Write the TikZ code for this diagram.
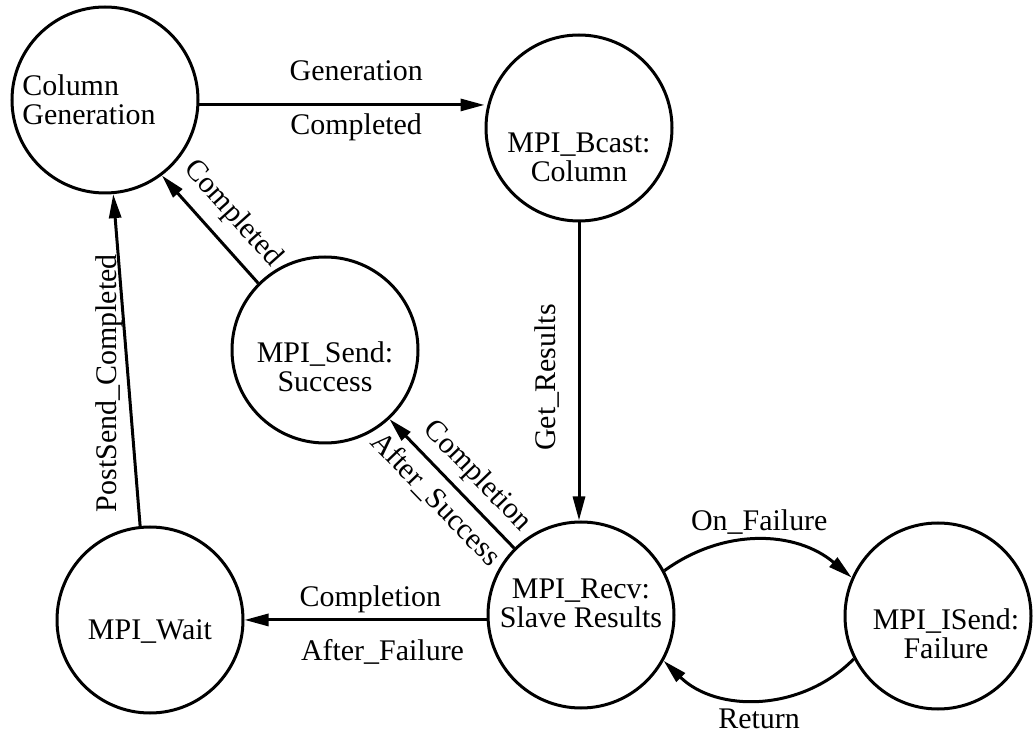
\documentclass[tikz,border=0pt]{standalone}
\usepackage{fontspec}
\setmainfont{Liberation Serif}
\usetikzlibrary{arrows.meta}

\begin{document}
\begin{tikzpicture}[
 state/.style={circle,draw,line width=0.075cm,minimum size=4.65cm,inner sep=0pt},
 txt/.style={align=center,inner sep=0pt,font=\fontsize{21.3}{20.6}\selectfont},
 lbl/.style={inner sep=0pt,font=\fontsize{21.3}{20.6}\selectfont},
 arr/.style={-{Triangle[length=0.6cm,width=0.3cm]},line width=0.075cm}]
 \useasboundingbox (0,0) rectangle (25.825,18.35);
 \node[state,label={[txt,align=left,xshift=-0.4cm]center:{Column\\Generation}}] (colgen) at (2.625,15.85) {};
 \node[state,label={[txt,yshift=-0.74cm]center:{MPI\_Bcast:\\Column}}] (bcast) at (14.475,15.15) {};
 \node[state,label={[txt,yshift=-0.43cm]center:{MPI\_Send:\\Success}}] (send) at (8.125,9.6) {};
 \node[state,label={[txt,yshift=-0.3cm]center:{MPI\_Wait}}] (wait) at (3.75,2.85) {};
 \node[state,label={[txt,yshift=0.28cm]center:{MPI\_Recv:\\Slave Results}}] (recv) at (14.525,2.975) {};
 \node[state,label={[txt,xshift=0.2cm,yshift=-0.45cm]center:{MPI\_ISend:\\Failure}}] (isend) at (23.45,2.95) {};
 \draw[arr] (colgen.-3) -- (colgen.-3 -| bcast.west)
 node[lbl,pos=0.55,above,yshift=0.56cm]{Generation}
 node[lbl,pos=0.55,below,yshift=-0.17cm]{Completed};
 \draw[arr] (bcast.south) -- (bcast.south |- recv.north)
 node[lbl,pos=0.52,xshift=-0.45cm,rotate=90,anchor=south]{Get\_Results};
 \draw[arr] (recv.135) -- (send.-47)
 node[lbl,pos=0.43,sloped,above,inner sep=0.2cm]{Completion}
 node[lbl,pos=0.5,sloped,below,inner sep=0.22cm]{After\_Success};
 \draw[arr] (send.135) -- (colgen.-53)
 node[lbl,pos=0.475,sloped,above,inner sep=0.3cm]{Completed};
 \draw[arr] (wait.96) -- (colgen.-85)
 node[lbl,pos=0.43,xshift=-0.1cm,rotate=90,anchor=south]{PostSend\_Completed};
 \draw[arr] (recv.183) -- (recv.183 -| wait.east)
 node[lbl,pos=0.48,above,yshift=0.14cm]{Completion}
 node[lbl,pos=0.43,below,yshift=-0.44cm]{After\_Failure};
 \draw[arr] (recv.28) to[bend left=38]
 node[lbl,midway,above,yshift=0.1cm]{On\_Failure} (isend.156);
 \draw[arr] (isend.207) to[bend left=45]
 node[lbl,midway,below,yshift=-0.2cm]{Return} (recv.-29);
\end{tikzpicture}
\end{document}
